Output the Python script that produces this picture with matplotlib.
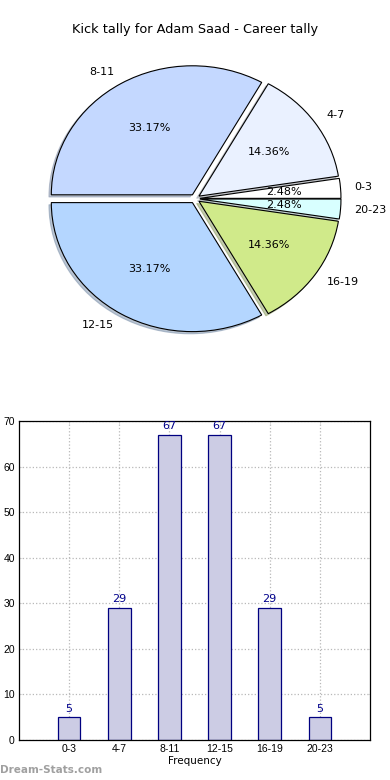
import matplotlib
matplotlib.use("Agg")
import matplotlib.pyplot as plt

categories = ["0-3", "4-7", "8-11", "12-15", "16-19", "20-23"]
counts = [5, 29, 67, 67, 29, 5]
pie_colors = ["#ffffff", "#eaf1ff", "#c4d8ff", "#b4d6ff", "#d0ea8a", "#d8ffff"]
title = "Kick tally for Adam Saad - Career tally"
y_ticks = [0, 10, 20, 30, 40, 50, 60, 70]

plt.rcParams['font.family'] = ['DejaVu Sans']
fig = plt.figure(figsize=(3.9, 7.8), dpi=100)

# Pie chart
ax1 = fig.add_axes([0.0475, 0.5385, 0.9046, 0.4135])
wedges, texts, autotexts = ax1.pie(
    counts, labels=categories, colors=pie_colors, explode=[0.035] * len(counts),
    autopct="%1.2f%%", startangle=0, shadow=dict(ox=-0.012, oy=-0.012, shade=0.35),
    labeldistance=1.1, pctdistance=0.6,
    wedgeprops=dict(edgecolor="black", linewidth=0.8),
    textprops=dict(fontsize=8))
ax1.set_aspect('auto')
ax1.set_xlim(-1.25, 1.25)
ax1.set_ylim(-1.25, 1.25)
fig.text(0.5, (780 - 30) / 780, title, ha="center", va="center", fontsize=9.3)

# Bar chart
ax2 = fig.add_axes([0.0487, 0.0513, 0.9, 0.409])
x = list(range(len(categories)))
bars = ax2.bar(x, counts, width=0.45, color="#ccccE4", edgecolor="#000080", linewidth=0.9, zorder=2)
for xi, c in zip(x, counts):
    ax2.text(xi, c + 0.8, str(c), ha="center", va="bottom", fontsize=8, color="#00008b")
ax2.set_xlim(-1, 6)
ax2.set_ylim(0, 70)
ax2.set_xticks(x)
ax2.set_xticklabels(categories)
ax2.set_yticks(y_ticks)
ax2.tick_params(direction="in", top=True, right=True, labelsize=7.5, length=2, width=0.5,
                pad=3, colors="#d0d0d0", labelcolor="black")
for lab in ax2.get_xticklabels() + ax2.get_yticklabels():
    lab.set_family('Liberation Sans')
    lab.set_stretch('condensed')
ax2.grid(True, linestyle=":", color="#b8b8b8", linewidth=0.9, zorder=0)
ax2.set_axisbelow(True)
ax2.set_xlabel("Frequency", fontsize=7.5, labelpad=1.5)
for s in ax2.spines.values():
    s.set_linewidth(0.9)

fig.text(0.0, (780 - 770) / 780, "Dream-Stats.com", ha="left", va="center",
         fontsize=7.5, color="#a0a0a0", fontweight="bold")

fig.savefig("out.png", dpi=100)
